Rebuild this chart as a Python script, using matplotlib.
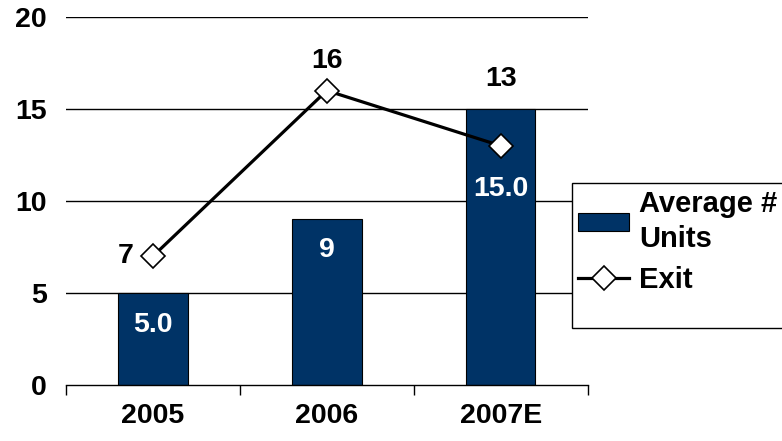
import matplotlib
matplotlib.use('Agg')
import matplotlib.pyplot as plt
from matplotlib.patches import Rectangle

plt.rcParams['font.family'] = ['Liberation Sans', 'DejaVu Sans']
plt.rcParams['font.weight'] = 'bold'

# Data
years = ['2005', '2006', '2007E']
avg_units = [5, 9, 15]
avg_units_labels = ['5.0', '9', '15.0']
exits = [7, 16, 13]
exit_labels = ['7', '16', '13']

NAVY = '#003366'
FS = 20.5

fig = plt.figure(figsize=(7.82, 4.41), dpi=100)
ax = fig.add_axes([0.0844, 0.127, 0.667, 0.8345])

x = list(range(len(years)))

ax.set_axisbelow(True)
for v in [5, 10, 15, 20]:
    ax.axhline(v, color='black', lw=1.0, zorder=0)

bars = ax.bar(x, avg_units, width=0.40, color=NAVY, edgecolor='black',
              linewidth=0.8, zorder=2, label='Average #\nUnits')
line, = ax.plot(x, exits, color='black', lw=2.3, marker='D', markersize=12,
                markerfacecolor='white', markeredgecolor='black',
                markeredgewidth=1.2, zorder=3, label='Exit')

# bar value labels (white, inside bars); offsets in pixels below bar top
bar_offsets = [-32, -31, -80]
for xi, v, lab, off in zip(x, avg_units, avg_units_labels, bar_offsets):
    ax.annotate(lab, (xi, v), xytext=(0, off * 0.72), textcoords='offset points',
                ha='center', va='center', color='white', fontsize=FS,
                fontweight='bold', zorder=4)

# line labels
line_offsets = [(-27, 0), (0, 30), (0, 67)]
for xi, v, lab, (dx, dy) in zip(x, exits, exit_labels, line_offsets):
    ax.annotate(lab, (xi, v), xytext=(dx * 0.72, dy * 0.72),
                textcoords='offset points', ha='center', va='center',
                color='black', fontsize=FS, fontweight='bold', zorder=4)

ax.set_xlim(-0.5, len(years) - 0.5)
ax.set_ylim(0, 20)
ax.set_yticks([0, 5, 10, 15, 20])
ax.tick_params(axis='y', length=0, pad=14, labelsize=FS)
ax.set_xticks(x)
ax.set_xticklabels(years, fontsize=FS, fontweight='bold')
ax.tick_params(axis='x', which='major', length=0, pad=13)
ax.set_xticks([-0.5, 0.5, 1.5, 2.5], minor=True)
ax.tick_params(axis='x', which='minor', length=7, width=1.0, direction='out')
for lbl in ax.get_yticklabels():
    lbl.set_fontweight('bold')

for s in ['top', 'right', 'left']:
    ax.spines[s].set_visible(False)
ax.spines['bottom'].set_linewidth(1.0)

# legend box
fig.patches.append(Rectangle((572 / 782, 1 - 328 / 441), 0.3, 145 / 441,
                             transform=fig.transFigure, facecolor='white',
                             edgecolor='black', lw=1.0, zorder=5))
leg = fig.legend(handles=[bars, line], loc='upper left',
                 bbox_to_anchor=(578 / 782, 1 - 190 / 441), frameon=False,
                 fontsize=21, handlelength=1.75, handleheight=0.6,
                 handletextpad=0.35, labelspacing=0.45, borderaxespad=0,
                 borderpad=0.0)
for t in leg.get_texts():
    t.set_fontweight('bold')
    t.set_linespacing(1.3)
leg.set_zorder(6)

fig.savefig('out.png', dpi=100)
